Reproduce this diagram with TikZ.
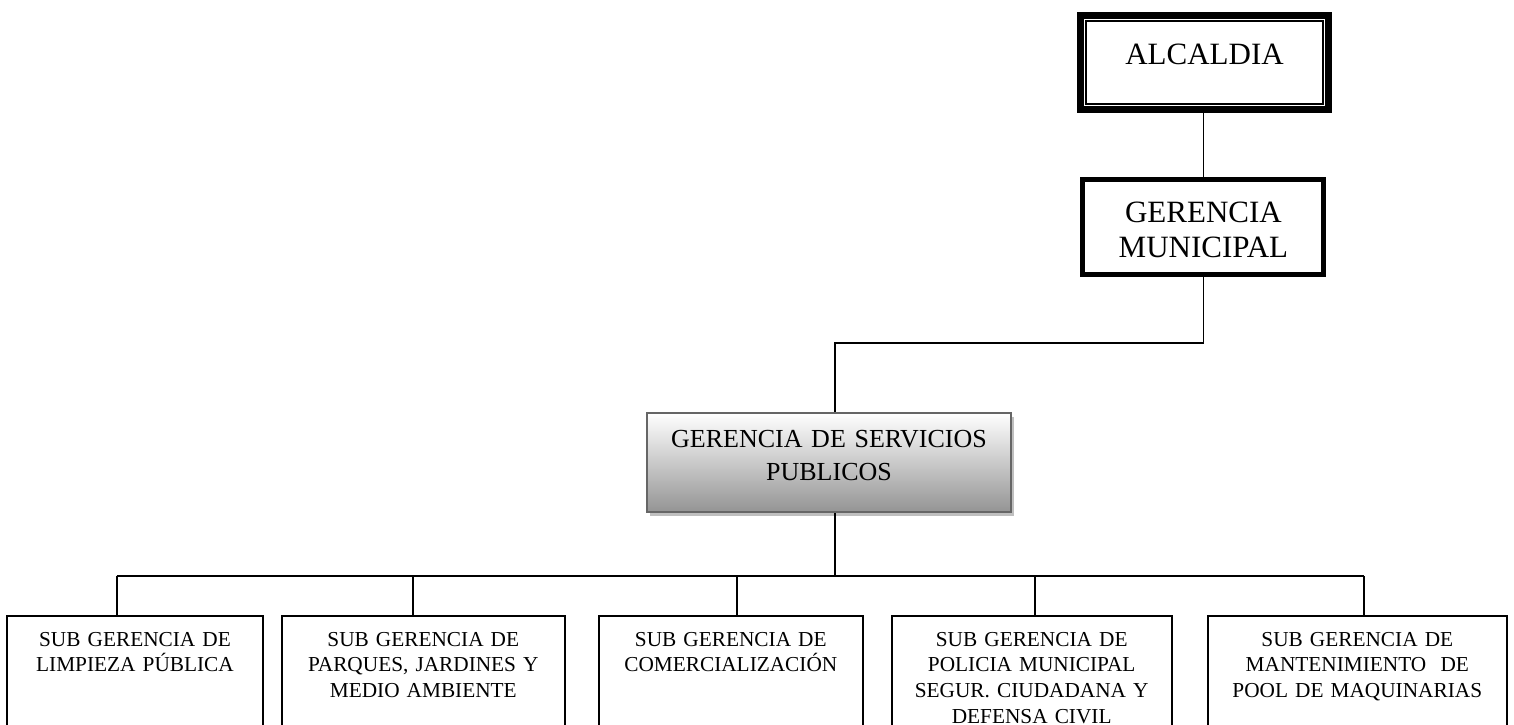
\documentclass[tikz,border=0pt]{standalone}
\usepackage{fontspec}
\setmainfont{Liberation Serif}
\usetikzlibrary{shadows}
\usetikzlibrary{calc,positioning}

\begin{document}
\begin{tikzpicture}[x=1pt,y=-1pt]
	\tikzstyle{head}=[draw, rectangle, text centered, inner xsep=4pt,
	font=\fontsize{31}{35}\selectfont]
	\tikzstyle{sub}=[draw, line width=1.8pt, rectangle, anchor=north, text centered,
	inner xsep=2pt, inner ysep=16pt, text depth=150pt, font=\fontsize{21.3}{25.7}\selectfont]
	\tikzstyle{link}=[line width=1.8pt]
	\path[use as bounding box, clip] (0,0) rectangle (1514,724);

	\node[head, line width=6.5pt, text width=240pt, minimum height=94pt, text depth=16pt] (alcaldia) at (1204.5,62.5) {ALCALDIA};
	\draw[line width=1.6pt] ($(alcaldia.north west)+(8.5,8.5)$) rectangle ($(alcaldia.south east)+(-8.5,-8.5)$);
	\node[head, line width=5pt, text width=233pt, minimum height=95.6pt, text depth=30pt] (gerMun) at (1203.4,227) {GERENCIA\\MUNICIPAL};

	\node[draw=black!60, line width=2pt, top color=white, bottom color=black!42,
	drop shadow={shadow xshift=3pt, shadow yshift=-4pt, fill=black!25, opacity=1},
	text width=356pt, text centered, inner xsep=4pt, inner ysep=17pt, text depth=48pt,
	font=\fontsize{26}{33}\selectfont] (gerSP) at (829,462.5) {GERENCIA DE SERVICIOS\\PUBLICOS};

	\node[sub, text width=252.6pt] (subG1) at (135,615) {SUB GERENCIA DE\\LIMPIEZA PÚBLICA};
	\node[sub, text width=279.3pt] (subG2) at (423.3,615) {SUB GERENCIA DE\\PARQUES, JARDINES Y\\MEDIO AMBIENTE};
	\node[sub, text width=259.7pt] (subG3) at (730.8,615) {SUB GERENCIA DE\\COMERCIALIZACIÓN};
	\node[sub, text width=276pt] (subG4) at (1031.7,615) {SUB GERENCIA DE\\POLICIA MUNICIPAL\\SEGUR. CIUDADANA Y\\DEFENSA CIVIL};
	\node[sub, text width=294.7pt] (subG5) at (1357.3,615) {SUB GERENCIA DE\\MANTENIMIENTO\ \ DE\\POOL DE MAQUINARIAS};

	% connectors
	\coordinate (jGer) at (835,343);
	\coordinate (bus) at (835,576);
	\coordinate (d1) at (116.7,576);
	\coordinate (d2) at (413.3,576);
	\coordinate (d3) at (736.7,576);
	\coordinate (d4) at (1035,576);
	\coordinate (d5) at (1364,576);

	\draw[link] (alcaldia.south -| gerMun.north) -- (gerMun.north);
	\draw[link] (gerMun.south) |- (jGer) -- (jGer |- gerSP.north);
	\draw[link] (gerSP.south -| bus) -- (bus);
	\draw[link] (d1) -- (d5);
	\draw[link] (d1) -- (d1 |- subG1.north);
	\draw[link] (d2) -- (d2 |- subG2.north);
	\draw[link] (d3) -- (d3 |- subG3.north);
	\draw[link] (d4) -- (d4 |- subG4.north);
	\draw[link] (d5) -- (d5 |- subG5.north);
\end{tikzpicture}
\end{document}
